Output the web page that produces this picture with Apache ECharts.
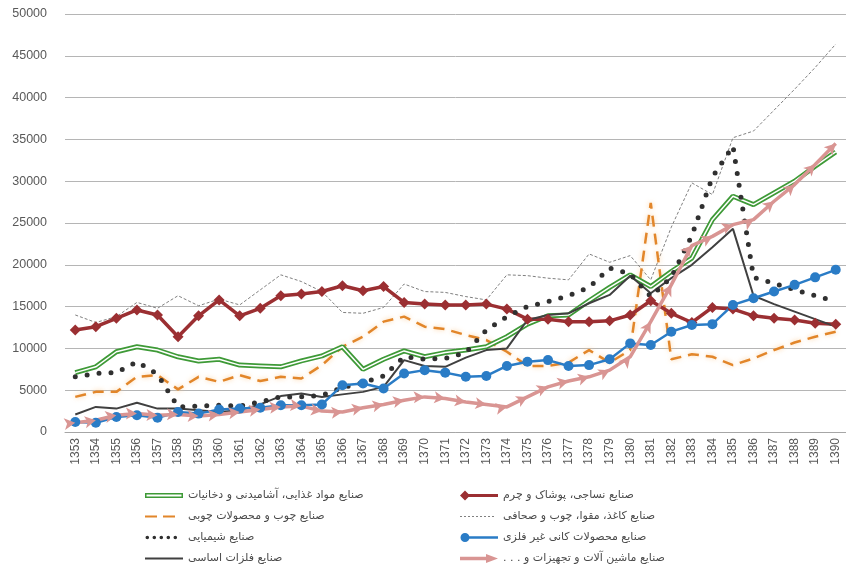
<!DOCTYPE html>
<html>
<head>
<meta charset="utf-8">
<script src="https://cdn.jsdelivr.net/npm/echarts@6/dist/echarts.min.js"></script>
<style>
  html, body { margin: 0; padding: 0; background: #fff; }
  #main { width: 846px; height: 578px; }
</style>
</head>
<body>
<div id="main"></div>
<script>
// years 1353..1390
const years = [];
for (let y = 1353; y <= 1390; y++) years.push(String(y));

const yTicks = [0, 5000, 10000, 15000, 20000, 25000, 30000, 35000, 40000, 45000, 50000];

const RLM = '\u200F';
const nameFood = 'صنایع مواد غذایی، آشامیدنی و دخانیات';
const nameTextile = 'صنایع نساجی، پوشاک و چرم';
const nameWood = 'صنایع چوب و محصولات چوبی';
const namePaper = 'صنایع کاغذ، مقوا، چوب و صحافی';
const nameChem = 'صنایع شیمیایی';
const nameMineral = 'صنایع محصولات کانی غیر فلزی';
const nameMetal = 'صنایع فلزات اساسی';
const nameMachine = 'صنایع ماشین آلات و تجهیزات و . . .' + RLM;

const food = [7100, 7800, 9600, 10200, 9800, 9000, 8500, 8700, 8000, 7900, 7800, 8500, 9100, 10200, 7500, 8700,
  9700, 9000, 9500, 9800, 10200, 11400, 12900, 13900, 14000, 15700, 17300, 18800, 17400, 19200, 20800, 25400,
  28200, 27200, 28600, 30000, 31800, 33500];
const textile = [12200, 12600, 13600, 14600, 14000, 11400, 13900, 15800, 13900, 14800, 16300, 16500, 16800, 17500, 16900, 17400,
  15500, 15300, 15200, 15200, 15300, 14700, 13500, 13500, 13200, 13200, 13300, 14000, 15700, 14200, 13100, 14900,
  14700, 13900, 13600, 13400, 13000, 12900];
const wood = [4200, 4800, 4800, 6600, 6800, 5100, 6600, 6000, 6800, 6100, 6600, 6400, 8000, 10200, 11400, 13200,
  13800, 12600, 12300, 11600, 11000, 9600, 7900, 7900, 8300, 9800, 8300, 9800, 27400, 8700, 9300, 9000,
  8000, 8800, 9800, 10700, 11400, 12000];
const paper = [14000, 13100, 13800, 15500, 14800, 16300, 15100, 15900, 15200, 17000, 18800, 18000, 16800, 14300, 14200, 14900,
  17700, 16800, 16700, 16200, 15800, 18800, 18700, 18400, 18200, 21300, 20300, 21100, 18200, 24500, 29800, 28400,
  35200, 36000, 38500, 41000, 43600, 46400];
const chem = [6600, 7000, 7100, 8400, 6900, 3000, 3100, 3200, 3100, 3600, 4200, 4200, 4400, 5300, 5900, 6700,
  9000, 8700, 8800, 9500, 12200, 13800, 15000, 15600, 16300, 17300, 19600, 18900, 16200, 18500, 23500, 30500,
  34200, 18500, 17800, 17000, 16300, 15600];
const mineral = [1200, 1100, 1800, 2000, 1700, 2400, 2200, 2700, 2800, 2900, 3200, 3200, 3300, 5600, 5800, 5200,
  7000, 7400, 7100, 6600, 6700, 7900, 8400, 8600, 7900, 8000, 8700, 10600, 10400, 12000, 12800, 12900,
  15200, 16000, 16800, 17600, 18500, 19400];
const metal = [2100, 3000, 2800, 3500, 2800, 2800, 2600, 2400, 2600, 3300, 4300, 4600, 4200, 4500, 4800, 5400,
  8600, 7900, 7800, 8900, 9800, 10000, 13400, 14000, 14200, 15400, 16400, 18700, 16600, 18400, 20000, 22100,
  24300, 16300, 15300, 14400, 13500, 12600];
const machine = [1100, 1400, 2000, 2200, 2000, 2100, 1900, 2100, 2400, 2700, 3000, 3100, 2500, 2400, 2900, 3300,
  3800, 4200, 4000, 3600, 3300, 3000, 4200, 5400, 6100, 6600, 7400, 9000, 13200, 17600, 22300, 23400,
  24800, 25400, 27600, 29600, 32000, 34500];

const cGreen = '#3e9a37';
const cRed = '#9b2f32';
const cOrange = '#e2862a';
const cGray = '#808080';
const cDots = '#303030';
const cBlue = '#2a7cc6';
const cBlack = '#404040';
const cPink = '#d99593';

// arrow markers follow the direction of the line
const pxStep = 784 / 38, pxPerUnit = 418 / 50000;
const machineData = machine.map((v, i) => {
  const a = machine[Math.max(i - 1, 0)], b = machine[Math.min(i + 1, machine.length - 1)];
  const n = Math.min(i + 1, machine.length - 1) - Math.max(i - 1, 0);
  const ang = Math.atan2((b - a) * pxPerUnit, n * pxStep) * 180 / Math.PI;
  return { value: v, symbolRotate: -90 + ang };
});

// legend icons, drawn in a 38x10 box (anchor points keep the box)
const box = 'M0,0L0,0Z M38,10L38,10Z ';
const icons = {
  food: 'path://' + box + 'M0,2.5H38V7.5H0Z M1.5,4V6H36.5V4Z',
  textile: 'path://' + box + 'M0,5L5,0L10,5L5,10Z M8,3.5H38V6.5H8Z',
  wood: 'path://' + box + 'M0,4H12V6H0Z M18,4H30V6H18Z',
  paper: 'path://' + box + 'M0,4.5H2V5.5H0Z M4,4.5H6V5.5H4Z M8,4.5H10V5.5H8Z M12,4.5H14V5.5H12Z M16,4.5H18V5.5H16Z M20,4.5H22V5.5H20Z M24,4.5H26V5.5H24Z M28,4.5H30V5.5H28Z M32,4.5H34V5.5H32Z',
  chem: 'path://' + box + 'M0.5,5A1.8,1.8 0 1 1 4.1,5A1.8,1.8 0 1 1 0.5,5Z M7.5,5A1.8,1.8 0 1 1 11.1,5A1.8,1.8 0 1 1 7.5,5Z M14.5,5A1.8,1.8 0 1 1 18.1,5A1.8,1.8 0 1 1 14.5,5Z M21.5,5A1.8,1.8 0 1 1 25.1,5A1.8,1.8 0 1 1 21.5,5Z M28.5,5A1.8,1.8 0 1 1 32.1,5A1.8,1.8 0 1 1 28.5,5Z',
  mineral: 'path://' + box + 'M0.5,5A4.5,4.5 0 1 1 9.5,5A4.5,4.5 0 1 1 0.5,5Z M8,3.8H38V6.2H8Z',
  metal: 'path://' + box + 'M0,4H38V6H0Z',
  machine: 'path://' + box + 'M0,3.3H28V6.7H0Z M26,0.5L38,5L26,9.5Z'
};

const legendBase = {
  orient: 'vertical',
  top: 485,
  itemWidth: 38,
  itemHeight: 10,
  itemGap: 10,
  selectedMode: false,
  textStyle: { fontFamily: 'DejaVu Sans', fontSize: 11, color: '#4a4a4a' }
};

const chart = echarts.init(document.getElementById('main'), null, { renderer: 'canvas' });
chart.setOption({
  animation: false,
  backgroundColor: '#fff',
  grid: { left: 65, width: 784, top: 14, height: 418 },
  legend: [
    Object.assign({}, legendBase, {
      left: 140,
      data: [
        { name: nameFood, icon: icons.food, itemStyle: { color: cGreen, borderWidth: 0 } },
        { name: nameWood, icon: icons.wood, itemStyle: { color: cOrange, borderWidth: 0 } },
        { name: nameChem, icon: icons.chem, itemStyle: { color: cDots, borderWidth: 0 } },
        { name: nameMetal, icon: icons.metal, itemStyle: { color: cBlack, borderWidth: 0 } }
      ]
    }),
    Object.assign({}, legendBase, {
      left: 455,
      data: [
        { name: nameTextile, icon: icons.textile, itemStyle: { color: cRed, borderWidth: 0 } },
        { name: namePaper, icon: icons.paper, itemStyle: { color: cGray, borderWidth: 0 } },
        { name: nameMineral, icon: icons.mineral, itemStyle: { color: cBlue, borderWidth: 0 } },
        { name: nameMachine, icon: icons.machine, itemStyle: { color: cPink, borderWidth: 0 } }
      ]
    })
  ],
  xAxis: {
    type: 'category',
    data: years,
    boundaryGap: true,
    axisLine: { lineStyle: { color: '#a6a6a6', width: 1 } },
    axisTick: { show: false },
    axisLabel: { rotate: 90, fontSize: 12, color: '#595959', margin: 6, fontFamily: 'Liberation Sans' }
  },
  yAxis: {
    type: 'value',
    min: yTicks[0],
    max: yTicks[yTicks.length - 1],
    interval: 5000,
    axisLine: { show: false },
    axisTick: { show: false },
    axisLabel: {
      fontSize: 12.5, color: '#595959', margin: 18, fontFamily: 'Liberation Sans',
      formatter: v => String(v)
    },
    splitLine: { lineStyle: { color: '#b5b5b5', width: 1 } }
  },
  series: [
    {
      name: namePaper, type: 'line', data: paper, symbol: 'none', color: cGray,
      lineStyle: { color: cGray, width: 1, type: [3, 2] }
    },
    {
      name: nameWood, type: 'line', data: wood, symbol: 'none', color: cOrange,
      lineStyle: { color: cOrange, width: 2.5, type: [11, 7], shadowColor: 'rgba(252,200,140,0.8)', shadowBlur: 5 }
    },
    {
      name: nameFood, type: 'line', data: food, symbol: 'none', color: cGreen,
      lineStyle: { color: cGreen, width: 5 }
    },
    {
      name: 'food-inner', type: 'line', data: food, symbol: 'none', color: '#fff',
      lineStyle: { color: '#fff', width: 1.5 }
    },
    {
      name: nameTextile, type: 'line', data: textile, symbol: 'diamond', symbolSize: 11, showAllSymbol: true,
      color: cRed, lineStyle: { color: cRed, width: 3.5 }, itemStyle: { color: cRed }
    },
    {
      name: nameMetal, type: 'line', data: metal, symbol: 'none', color: cBlack,
      lineStyle: { color: cBlack, width: 2 }
    },
    {
      name: nameChem, type: 'line', data: chem, symbol: 'none', color: cDots,
      lineStyle: { color: cDots, width: 5, type: [0, 12], cap: 'round' }
    },
    {
      name: nameMineral, type: 'line', data: mineral, symbol: 'circle', symbolSize: 10, showAllSymbol: true,
      color: cBlue, lineStyle: { color: cBlue, width: 2.5 }, itemStyle: { color: cBlue }
    },
    {
      name: nameMachine, type: 'line', data: machineData, symbol: 'arrow', symbolSize: [9, 11], showAllSymbol: true,
      color: cPink, lineStyle: { color: cPink, width: 3.5 }, itemStyle: { color: cPink }
    }
  ]
});
</script>
</body>
</html>
